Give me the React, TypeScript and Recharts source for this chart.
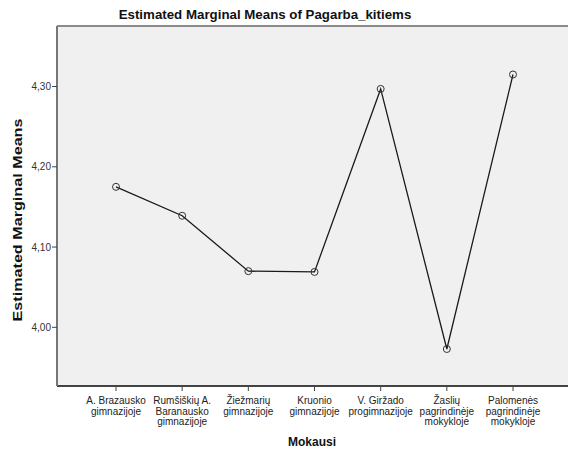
import React from 'react';
import { LineChart, Line, XAxis, YAxis, CartesianGrid, ReferenceLine } from 'recharts';

const categories = [
  'A. Brazausko\ngimnazijoje',
  'Rumšiškių A.\nBaranausko\ngimnazijoje',
  'Žiežmarių\ngimnazijoje',
  'Kruonio\ngimnazijoje',
  'V. Giržado\nprogimnazijoje',
  'Žaslių\npagrindinėje\nmokykloje',
  'Palomenės\npagrindinėje\nmokykloje',
];
const means = [4.175, 4.139, 4.07, 4.069, 4.297, 3.973, 4.315];
const yTicks = [4.0, 4.1, 4.2, 4.3];
const yDomain = [3.9269, 4.3754];
const title = 'Estimated Marginal Means of Pagarba_kitiems';
const xTitle = 'Mokausi';
const yTitle = 'Estimated Marginal Means';

const FONT = '"Liberation Sans", Arial, sans-serif';

const data = categories.map((name, i) => ({ name, value: means[i] }));

const XTick = (props: any) => {
  const { x, y, payload } = props;
  const lines = String(payload.value).split('\n');
  return (
    <text x={x} y={y} textAnchor="middle" fontSize={10} fill="#222" fontFamily={FONT}>
      {lines.map((l, i) => (
        <tspan key={i} x={x} y={y + 13 + i * 10.5}>
          {l}
        </tspan>
      ))}
    </text>
  );
};

export default function App() {
  return (
    <div style={{ position: 'absolute', left: 0, top: 0, width: 568, height: 453, background: '#fff' }}>
      <LineChart width={568} height={453} data={data} margin={{ top: 26, right: 0, bottom: 0, left: 0 }}>
        <CartesianGrid fill="#f0f0f0" horizontal={false} vertical={false} />
        <ReferenceLine y={yDomain[1]} stroke="#8a8a8a" strokeWidth={2} />
        <XAxis
          dataKey="name"
          height={67}
          padding={{ left: 59, right: 55 }}
          interval={0}
          tick={<XTick />}
          tickSize={5}
          tickMargin={0}
          axisLine={{ stroke: '#444', strokeWidth: 2 }}
          tickLine={{ stroke: '#444' }}
        />
        <YAxis
          type="number"
          width={57}
          domain={yDomain}
          ticks={yTicks}
          allowDataOverflow
          tickSize={5}
          tickMargin={1}
          tickFormatter={(v: number) => v.toFixed(2).replace('.', ',')}
          tick={{ fontSize: 10, fill: '#333', fontFamily: FONT }}
          axisLine={{ stroke: '#777', strokeWidth: 2 }}
          tickLine={{ stroke: '#444' }}
        />
        <Line
          type="linear"
          dataKey="value"
          stroke="#1a1a1a"
          strokeWidth={1.3}
          dot={{ r: 3.5, stroke: '#333', strokeWidth: 1, fill: 'none' }}
          activeDot={false}
          isAnimationActive={false}
        />
      </LineChart>
      <svg width={568} height={453} style={{ position: 'absolute', left: 0, top: 0, pointerEvents: 'none' }}>
        <text x={265} y={19} textAnchor="middle" fontSize={13.3} fontWeight="bold" fill="#111" fontFamily={FONT}>
          {title}
        </text>
        <text x={312} y={446} textAnchor="middle" fontSize={12} fontWeight="bold" fill="#111" fontFamily={FONT}>
          {xTitle}
        </text>
        <text
          transform="translate(22,220) rotate(-90)"
          textAnchor="middle"
          fontSize={13}
          fontWeight="bold"
          fill="#111"
          fontFamily={FONT}
          textLength={203}
          lengthAdjust="spacingAndGlyphs"
        >
          {yTitle}
        </text>
      </svg>
    </div>
  );
}
